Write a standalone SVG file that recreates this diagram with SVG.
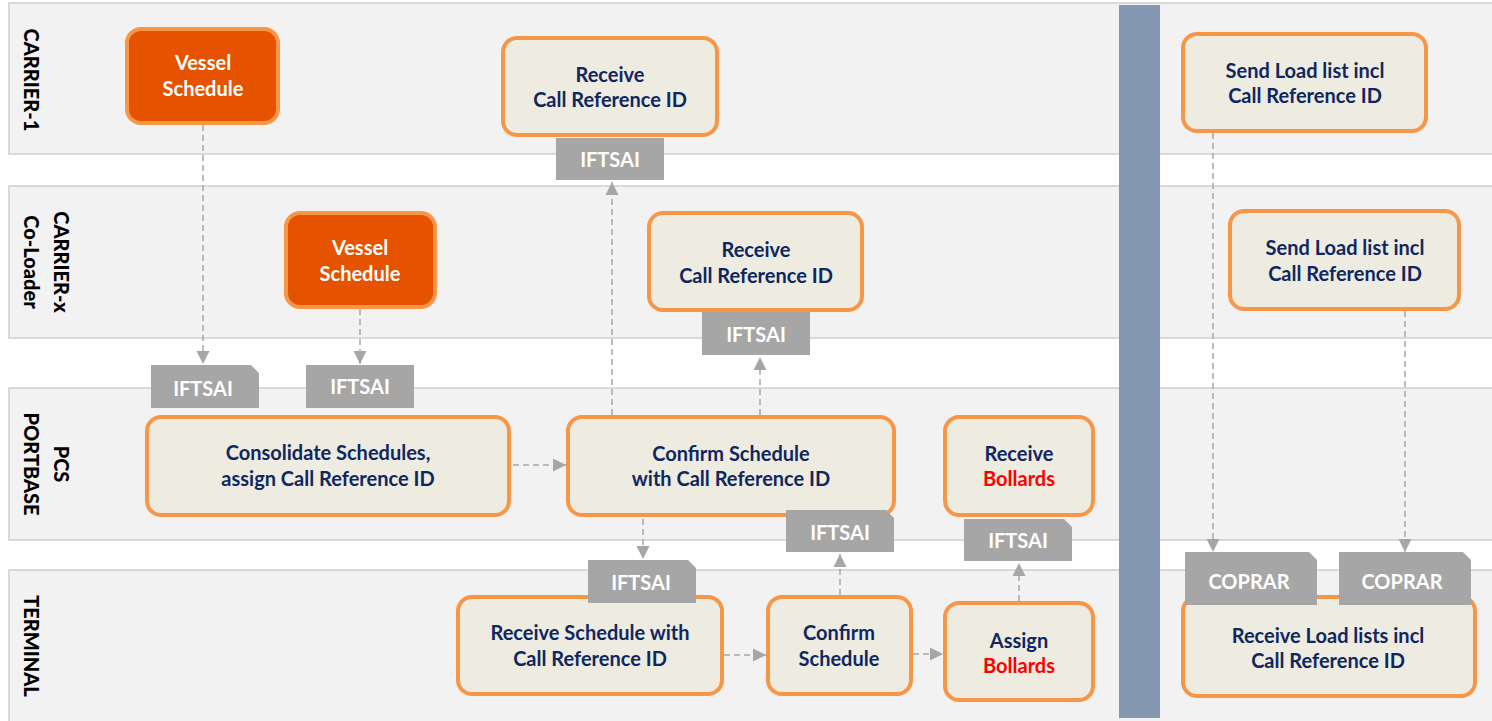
<svg xmlns="http://www.w3.org/2000/svg" width="1492" height="721" viewBox="0 0 1492 721">
<defs>
<style>
.lane{fill:#F2F2F2;stroke:#D0D0D0;stroke-width:1.5}
.lbl{font-family:Lato,"Liberation Sans",sans-serif;font-weight:900;font-size:20px;fill:#000}
.box{fill:#EEECE1;stroke:#F79646;stroke-width:4}
.hot{fill:#E55300;stroke:#F79646;stroke-width:4}
.t{font-family:Lato,"Liberation Sans",sans-serif;font-weight:bold;font-size:20px;fill:#0F2760;text-anchor:middle}
.tw{font-family:Lato,"Liberation Sans",sans-serif;font-weight:bold;font-size:20px;fill:#FFFFFF;text-anchor:middle}
.red{fill:#FF0000}
.doc{fill:#A6A6A6}
.dt{font-family:Lato,"Liberation Sans",sans-serif;font-weight:bold;font-size:20px;fill:#FFFFFF;text-anchor:middle}
.con{fill:none;stroke:#A6A6A6;stroke-width:1.5;stroke-dasharray:6 4;marker-end:url(#ah)}
</style>
<marker id="ah" viewBox="0 0 10 10" refX="10" refY="5" markerWidth="13" markerHeight="14" markerUnits="userSpaceOnUse" orient="auto">
<path d="M0,0 L10,5 L0,10 Z" fill="#A6A6A6"/>
</marker>
</defs>
<rect width="1492" height="721" fill="#FFFFFF"/>
<g id="lanes">
<rect class="lane" x="9" y="3" width="1500" height="151"/>
<rect class="lane" x="9" y="186" width="1500" height="152"/>
<rect class="lane" x="9" y="388" width="1500" height="152"/>
<rect class="lane" x="9" y="570" width="1500" height="152"/>
<text class="lbl" transform="translate(24,80) rotate(90)" text-anchor="middle">CARRIER-1</text>
<text class="lbl" transform="translate(54,262) rotate(90)" text-anchor="middle">CARRIER-x</text>
<text class="lbl" transform="translate(24,262) rotate(90)" text-anchor="middle">Co-Loader</text>
<text class="lbl" transform="translate(54,464) rotate(90)" text-anchor="middle">PCS</text>
<text class="lbl" transform="translate(24,464) rotate(90)" text-anchor="middle">PORTBASE</text>
<text class="lbl" transform="translate(24,646) rotate(90)" text-anchor="middle">TERMINAL</text>
</g>
<rect id="divider" x="1119" y="5" width="41" height="713" fill="#8497B0"/>
<g id="connectors">
<line class="con" x1="203" y1="125" x2="203" y2="364"/>
<line class="con" x1="360" y1="309" x2="360" y2="364"/>
<line class="con" x1="513" y1="465" x2="566" y2="465"/>
<line class="con" x1="612" y1="415" x2="612" y2="182"/>
<line class="con" x1="760" y1="415" x2="760" y2="357"/>
<line class="con" x1="643" y1="519" x2="643" y2="559"/>
<line class="con" x1="840" y1="595" x2="840" y2="554"/>
<line class="con" x1="1019" y1="601" x2="1019" y2="563"/>
<line class="con" x1="724" y1="655" x2="766" y2="655"/>
<line class="con" x1="913" y1="654" x2="943" y2="654"/>
<line class="con" x1="1213" y1="133" x2="1213" y2="552"/>
<line class="con" x1="1405" y1="311" x2="1405" y2="552"/>
</g>
<g id="n1"><rect class="hot" x="127" y="29" width="151" height="94" rx="14"/><text class="tw" x="203" y="70">Vessel</text><text class="tw" x="203" y="96">Schedule</text></g>
<g id="n2"><rect class="box" x="503" y="38" width="214" height="97" rx="14"/><text class="t" x="610" y="82">Receive</text><text class="t" x="610" y="107">Call Reference ID</text></g>
<g id="d1"><rect class="doc" x="556" y="138" width="108" height="42"/><text class="dt" x="610" y="167">IFTSAI</text></g>
<g id="n3"><rect class="box" x="1183" y="34" width="243" height="97" rx="14"/><text class="t" x="1305" y="78">Send Load list incl</text><text class="t" x="1305" y="103">Call Reference ID</text></g>
<g id="n4"><rect class="hot" x="286" y="213" width="149" height="94" rx="14"/><text class="tw" x="360" y="255">Vessel</text><text class="tw" x="360" y="281">Schedule</text></g>
<g id="n5"><rect class="box" x="649" y="213" width="213" height="97" rx="14"/><text class="t" x="756" y="257">Receive</text><text class="t" x="756" y="283">Call Reference ID</text></g>
<g id="d2"><rect class="doc" x="702" y="312" width="108" height="43"/><text class="dt" x="756" y="342">IFTSAI</text></g>
<g id="n6"><rect class="box" x="1230" y="211" width="229" height="98" rx="14"/><text class="t" x="1345" y="255">Send Load list incl</text><text class="t" x="1345" y="281">Call Reference ID</text></g>
<g id="d3"><path class="doc" d="M151,365 H251 L259,373 V408 H151 Z"/><text class="dt" x="203" y="396">IFTSAI</text></g>
<g id="d4"><rect class="doc" x="306" y="365" width="108" height="43"/><text class="dt" x="360" y="394">IFTSAI</text></g>
<g id="n7"><rect class="box" x="147" y="417" width="362" height="98" rx="14"/><text class="t" x="328" y="460">Consolidate Schedules,</text><text class="t" x="328" y="486">assign Call Reference ID</text></g>
<g id="n8"><rect class="box" x="568" y="417" width="326" height="98" rx="14"/><text class="t" x="731" y="461">Confirm Schedule</text><text class="t" x="731" y="486">with Call Reference ID</text></g>
<g id="n9"><rect class="box" x="945" y="417" width="148" height="98" rx="14"/><text class="t" x="1019" y="461">Receive</text><text class="t red" x="1019" y="486">Bollards</text></g>
<g id="d5"><path class="doc" d="M786,510 H886 L894,518 V552 H786 Z"/><text class="dt" x="840" y="540">IFTSAI</text></g>
<g id="d6"><path class="doc" d="M964,519 H1064 L1072,527 V561 H964 Z"/><text class="dt" x="1018" y="548">IFTSAI</text></g>
<g id="n10"><rect class="box" x="458" y="597" width="264" height="97" rx="14"/><text class="t" x="590" y="640">Receive Schedule with</text><text class="t" x="590" y="666">Call Reference ID</text></g>
<g id="d7"><path class="doc" d="M588,560 H688 L696,568 V603 H588 Z"/><text class="dt" x="641" y="590">IFTSAI</text></g>
<g id="n11"><rect class="box" x="768" y="597" width="143" height="97" rx="14"/><text class="t" x="839" y="640">Confirm</text><text class="t" x="839" y="666">Schedule</text></g>
<g id="n12"><rect class="box" x="945" y="603" width="148" height="97" rx="14"/><text class="t" x="1019" y="648">Assign</text><text class="t red" x="1019" y="673">Bollards</text></g>
<g id="n13"><rect class="box" x="1183" y="597" width="292" height="99" rx="14"/><text class="t" x="1328" y="643">Receive Load lists incl</text><text class="t" x="1328" y="668">Call Reference ID</text></g>
<g id="d8"><path class="doc" d="M1185,552 H1309 L1317,560 V605 H1185 Z"/><text class="dt" x="1249" y="589">COPRAR</text></g>
<g id="d9"><path class="doc" d="M1339,552 H1463 L1471,560 V605 H1339 Z"/><text class="dt" x="1402" y="589">COPRAR</text></g>
</svg>
